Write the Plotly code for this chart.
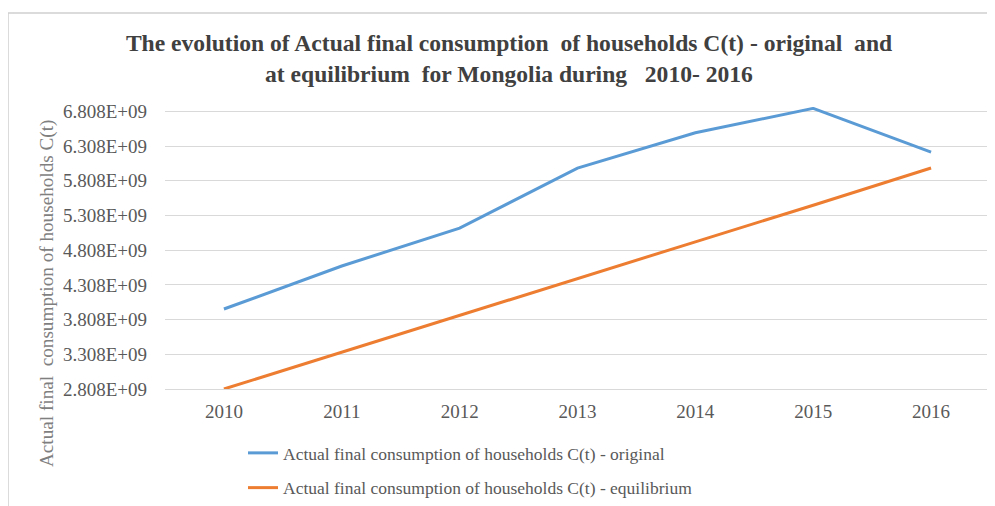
import plotly.graph_objects as go

years = ["2010", "2011", "2012", "2013", "2014", "2015", "2016"]
original = [3.96e9, 4.58e9, 5.125e9, 5.99e9, 6.50e9, 6.85e9, 6.22e9]
equilibrium = [2.808e9, 3.34e9, 3.873e9, 4.405e9, 4.928e9, 5.455e9, 5.992e9]
ytick_vals = [2.808e9, 3.308e9, 3.808e9, 4.308e9, 4.808e9, 5.308e9, 5.808e9, 6.308e9, 6.808e9]
ytick_text = ["2.808E+09", "3.308E+09", "3.808E+09", "4.308E+09", "4.808E+09",
              "5.308E+09", "5.808E+09", "6.308E+09", "6.808E+09"]

# page body has an 8px margin; size the figure so it fills the window
OFF = 8
W, H = 995 - OFF, 506 - OFF
L, R, T, B = 157, 5, 99, 117
pw, ph = W - L - R, H - T - B

def px(x):
    return (x - OFF - L) / pw

def py(y):
    return (H - B - (y - OFF)) / ph

SERIF = "Liberation Serif"
GRAY = "#595959"

fig = go.Figure()
fig.add_trace(go.Scatter(x=years, y=original, mode="lines",
                         name="Actual final consumption of households C(t) - original",
                         line=dict(color="#5B9BD5", width=3), legendgroup="a"))
fig.add_trace(go.Scatter(x=years, y=equilibrium, mode="lines",
                         name="Actual final consumption of households C(t) - equilibrium",
                         line=dict(color="#ED7D31", width=3), legendgroup="b"))

fig.update_layout(
    width=W, height=H,
    margin=dict(l=L, r=R, t=T, b=B, autoexpand=False),
    paper_bgcolor="white", plot_bgcolor="white",
    font=dict(family=SERIF, color=GRAY, size=17),
    showlegend=True,
    legend=dict(x=235 / W, xref="container", y=1 - 427 / H, yref="container",
                xanchor="left", yanchor="top",
                font=dict(family=SERIF, size=17.5, color=GRAY),
                tracegroupgap=9, traceorder="grouped",
                bgcolor="rgba(0,0,0,0)"),
    title=dict(
        text="The evolution of Actual final consumption  of households C(t) - original  and<br>at equilibrium  for Mongolia during   2010- 2016",
        x=(509 - OFF) / W, xref="container", xanchor="center",
        y=1 - 43 / H, yref="container", yanchor="middle",
        font=dict(family=SERIF, size=23.6, color="#404040", weight="bold"),
    ),
    xaxis=dict(type="category", range=[-0.5, 6.5], showgrid=False,
               showline=True, linecolor="#D9D9D9", linewidth=1,
               ticks="", tickfont=dict(family=SERIF, size=19, color=GRAY),
               ticklabelstandoff=5, automargin=False),
    yaxis=dict(range=[2.808e9, 6.87e9], tickvals=ytick_vals, ticktext=ytick_text,
               showgrid=True, gridcolor="#D9D9D9", gridwidth=1, zeroline=False,
               showline=False, ticks="",
               tickfont=dict(family=SERIF, size=19, color=GRAY),
               ticklabelstandoff=17, automargin=False),
    shapes=[dict(type="rect", xref="paper", yref="paper",
                 x0=px(8), x1=px(1010), y0=py(520), y1=py(13),
                 line=dict(color="#D0D0D0", width=1.5), layer="below")],
    annotations=[dict(text="Actual final  consumption of households C(t)",
                      xref="paper", yref="paper", x=px(47), y=py(294),
                      textangle=-90, showarrow=False,
                      font=dict(family=SERIF, size=19.2, color="#7F7F7F"),
                      xanchor="center", yanchor="middle")],
)

fig.write_html("out.html")
